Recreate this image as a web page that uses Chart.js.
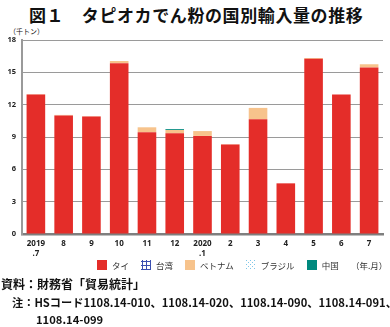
<!DOCTYPE html>
<html><head><meta charset="utf-8">
<script src="https://cdn.jsdelivr.net/npm/chart.js@4/dist/chart.umd.min.js"></script>
<style>
html,body{margin:0;padding:0;background:#fff;width:390px;height:327px;overflow:hidden;font-family:"Noto Sans CJK JP","Noto Sans",sans-serif;}
#wrap{position:absolute;left:0;top:0;width:390px;height:262px;}
.t{position:absolute;white-space:nowrap;color:#111;}
#title{left:29px;top:2px;font-size:17px;font-weight:bold;letter-spacing:0.6px;}
#unit{left:9px;top:26px;font-size:7px;}
#ym{left:351px;top:259px;font-size:8.5px;color:#333;}
#legend{position:absolute;left:97px;top:259px;font-size:8.5px;color:#333;display:flex;align-items:center;white-space:nowrap;}
#legend span.b{display:inline-block;width:10px;height:10px;margin-right:5px;}
#legend span.l{margin-right:12px;}
#src{left:1px;top:275px;font-size:12px;font-weight:bold;}
#note1{left:12px;top:294px;font-size:11.2px;font-weight:bold;}
#note2{left:36px;top:311px;font-size:11.2px;font-weight:bold;}
</style></head>
<body>
<div class="t" id="title">図１　タピオカでん粉の国別輸入量の推移</div>
<div class="t" id="unit">（千トン）</div>
<div id="wrap"><canvas id="c" width="390" height="262"></canvas></div>
<div id="legend">
 <span class="b" style="background:#e42d29"></span><span class="l">タイ</span>
 <span class="b" id="lgTw"></span><span class="l">台湾</span>
 <span class="b" style="background:#f7c38c"></span><span class="l">ベトナム</span>
 <span class="b" id="lgBr"></span><span class="l">ブラジル</span>
 <span class="b" style="background:#00897e"></span><span class="l">中国</span>
</div>
<div class="t" id="ym">（年.月）</div>
<div class="t" id="src">資料：財務省「貿易統計」</div>
<div class="t" id="note1">注：HSコード1108.14-010、1108.14-020、1108.14-090、1108.14-091、</div>
<div class="t" id="note2">1108.14-099</div>
<script>
const categories = [["2019",".7"],"8","9","10","11","12",["2020",".1"],"2","3","4","5","6","7"];
const thai     = [12.95, 11.0, 10.9, 15.85, 9.45, 9.35, 9.1, 8.3, 10.65, 4.7, 16.25, 12.95, 15.45];
const taiwan   = [0, 0, 0, 0, 0, 0, 0, 0, 0, 0, 0, 0, 0];
const vietnam  = [0.03, 0.05, 0.03, 0.2, 0.45, 0.3, 0.45, 0.03, 1.05, 0, 0.08, 0, 0.3];
const brazil   = [0, 0, 0, 0, 0, 0, 0, 0, 0, 0, 0, 0, 0];
const china    = [0, 0, 0, 0, 0, 0.08, 0, 0, 0, 0, 0, 0, 0];
const yTicks   = [0, 3, 6, 9, 12, 15, 18];

function hatch(){
  const p=document.createElement('canvas');p.width=4;p.height=4;
  const g=p.getContext('2d');g.fillStyle='#fff';g.fillRect(0,0,4,4);
  g.fillStyle='#3a4fb0';g.fillRect(0,1,4,1);g.fillRect(1,0,1,4);
  return p;
}
function dots(){
  const p=document.createElement('canvas');p.width=4;p.height=4;
  const g=p.getContext('2d');g.fillStyle='#fff';g.fillRect(0,0,4,4);
  g.fillStyle='#7fc6e8';g.fillRect(0,0,1,1);g.fillRect(2,2,1,1);
  return p;
}
const hc=hatch(), dc=dots();
document.getElementById('lgTw').style.background='url('+hc.toDataURL()+')';
document.getElementById('lgBr').style.background='url('+dc.toDataURL()+')';
const ctx=document.getElementById('c').getContext('2d');
const twPat=ctx.createPattern(hc,'repeat'), brPat=ctx.createPattern(dc,'repeat');

const common={barPercentage:0.67,categoryPercentage:1.0,borderWidth:0};
new Chart(ctx,{
  type:'bar',
  data:{labels:categories,datasets:[
    Object.assign({label:'タイ',data:thai,backgroundColor:'#e42d29'},common),
    Object.assign({label:'台湾',data:taiwan,backgroundColor:twPat},common),
    Object.assign({label:'ベトナム',data:vietnam,backgroundColor:'#f7c38c'},common),
    Object.assign({label:'ブラジル',data:brazil,backgroundColor:brPat},common),
    Object.assign({label:'中国',data:china,backgroundColor:'#00897e'},common)
  ]},
  options:{
    responsive:false,animation:false,
    layout:{padding:{left:0,top:40,right:7,bottom:0}},
    plugins:{legend:{display:false},tooltip:{enabled:false},title:{display:false}},
    scales:{
      x:{stacked:true,
        grid:{display:false,drawTicks:false},
        border:{display:true,color:'#7f7f7f',width:2.5},
        ticks:{color:'#222',font:{size:8,weight:'bold',family:'"Noto Sans","DejaVu Sans",sans-serif'},padding:5,maxRotation:0,autoSkip:false},
        afterFit:s=>{s.height=28;}
      },
      y:{stacked:true,min:0,max:18,
        afterBuildTicks:s=>{s.ticks=yTicks.map(v=>({value:v}));},
        grid:{color:'#9a9a9a',lineWidth:1,drawTicks:false},
        border:{display:true,color:'#9a9a9a',width:2},
        ticks:{color:'#222',font:{size:7.5,weight:'bold',family:'"Noto Sans","DejaVu Sans",sans-serif'},padding:6},
        afterFit:s=>{s.width=22;}
      }
    }
  }
});
</script>
</body></html>
